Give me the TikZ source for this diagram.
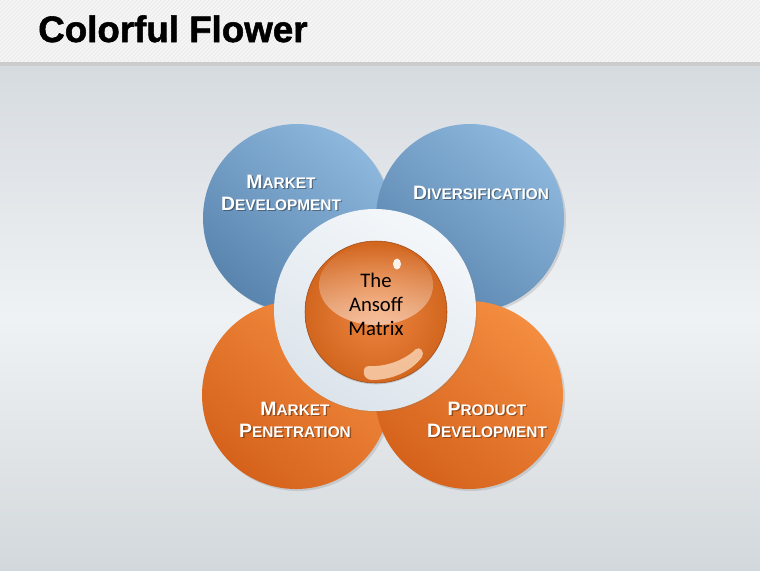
\documentclass[tikz,border=0pt]{standalone}
\usepackage{fontspec}
\setmainfont{Liberation Sans}
\newfontfamily\calibri{Carlito}
\newfontfamily\titlefont[FakeBold=1.5]{Liberation Sans Bold}
\usetikzlibrary{shadows, fadings, patterns}

\definecolor{bluelite}{HTML}{8DB7DC}
\definecolor{bluedark}{HTML}{5984AE}
\definecolor{orangelite}{HTML}{F48D40}
\definecolor{orangedark}{HTML}{D5621B}
\definecolor{ballin}{HTML}{EE8641}
\definecolor{ballout}{HTML}{D2661F}
\definecolor{ringlite}{HTML}{F4F7FA}
\definecolor{ringdark}{HTML}{DCE4EB}
\definecolor{bgtop}{HTML}{D6DBE0}
\definecolor{bgmid}{HTML}{EFF2F4}
\definecolor{bgbot}{HTML}{D3D8DC}

% pixel unit, for node sizes
\def\pxl{0.026316cm}
% fake small capitals: first letter large, rest small
\newcommand{\scword}[2]{{\fontsize{14.5}{17}\selectfont #1}{\fontsize{11.5}{17}\selectfont #2}}
% white label with a soft shadow: #1 offset, #2 petal, #3 name, #4 text
\newcommand{\petallabel}[4]{%
	\node[lblshadow] at ([shift={#1}, shift={(1.3,1.3)}]#2.center) {#4};
	\node[lbl] (#3) at ([shift={#1}]#2.center) {#4};}

\begin{document}
\begin{tikzpicture}[x=\pxl, y=-\pxl,
		petal/.style={circle, minimum size={188*\pxl}, inner sep=0pt,
				drop shadow={shadow xshift=1.5pt, shadow yshift=-1.5pt, opacity=0.25}},
		bluepetal/.style={petal, top color=bluelite, bottom color=bluedark, shading angle=-40},
		orangepetal/.style={petal, top color=orangelite, bottom color=orangedark, shading angle=-40},
		lbl/.style={text=white, font=\bfseries\fontsize{12}{16.5}\selectfont, align=center, inner sep=0pt},
		lblshadow/.style={lbl, text=black, text opacity=0.35},
	]
	\useasboundingbox (0,0) rectangle (760,570);

	% background and header
	\shade[top color=bgtop, bottom color=bgbot, middle color=bgmid] (0,66) rectangle (760,570);
	\fill[gray!8] (0,0) rectangle (760,62);
	\fill[pattern=north east lines, pattern color=gray!18] (0,0) rectangle (760,62);
	\fill[gray!40] (0,62) rectangle (760,66);
	\node (title) [anchor=base west, inner sep=0pt, font=\titlefont\fontsize{27.5}{30}\selectfont]
	at (38,42) {Colorful Flower};

	% petals
	\node (md)  [bluepetal]   at (297,218) {};
	\node (div) [bluepetal]   at (470,218) {};
	\node (mp)  [orangepetal] at (296,395) {};
	\node (pd)  [orangepetal] at (469,395) {};

	% centre ring and ball
	\node (ring) [circle, minimum size={202*\pxl}, inner sep=0pt,
		top color=ringlite, bottom color=ringdark, shading angle=-30,
		drop shadow={shadow xshift=1pt, shadow yshift=-1pt, opacity=0.2}] at (375,310) {};
	\node (core) [circle, minimum size={142*\pxl}, inner sep=0pt,
		inner color=ballin, outer color=ballout, draw=ballout!75!black, line width=0.4pt,
		drop shadow={shadow xshift=0pt, shadow yshift=-1pt, opacity=0.35}] at (376,312) {};
	\fill[white, fill opacity=0.5, path fading=north]
	(376,285) ellipse [x radius=57, y radius=40];
	\fill[white, fill opacity=0.9] (397,264) ellipse [x radius=4, y radius=5.5];
	\fill[orange!20!white, fill opacity=0.7]
	(369,366) .. controls (386,367) and (405,360) .. (416,349)
	.. controls (420,346) and (425,352) .. (422,357)
	.. controls (411,372) and (391,380) .. (372,380)
	.. controls (362,380) and (361,366) .. (369,366);
	\node (ansoff) [font=\calibri\fontsize{15.5}{18}\selectfont, align=center,
		inner sep=0pt] at (376,304) {The\\Ansoff\\Matrix};

	% petal labels
	\petallabel{(-16,-25)}{md}{mdtext}{\scword{M}{ARKET}\\\scword{D}{EVELOPMENT}}
	\petallabel{(11,-25)}{div}{divtext}{\scword{D}{IVERSIFICATION}}
	\petallabel{(-1,25)}{mp}{mptext}{\scword{M}{ARKET}\\\scword{P}{ENETRATION}}
	\petallabel{(18,25)}{pd}{pdtext}{\scword{P}{RODUCT}\\\scword{D}{EVELOPMENT}}
\end{tikzpicture}
\end{document}
